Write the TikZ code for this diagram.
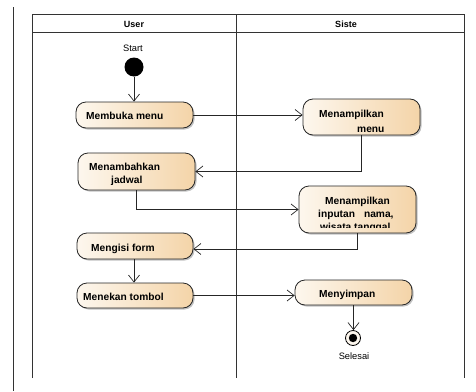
\documentclass[tikz,border=0pt]{standalone}
\usepackage{fontspec}
\setmainfont{Liberation Sans}
\usetikzlibrary{arrows.meta,shadows,calc}
\definecolor{actL}{RGB}{253,247,238}
\definecolor{actR}{RGB}{244,212,168}
\begin{document}
\begin{tikzpicture}[x=1pt,y=-1pt,
  act/.style={draw=black!85, line width=0.8pt, rounded corners=10pt,
    left color=actL, right color=actR,
    drop shadow={shadow xshift=1.5pt, shadow yshift=-1.5pt, fill=black!40, opacity=0.6},
    minimum width=117pt, inner sep=0pt},
  lbl/.style={anchor=base west, inner sep=0pt, font=\fontsize{10.2}{12}\selectfont\bfseries},
  hdr/.style={anchor=base, inner sep=0pt, font=\fontsize{9}{10}\selectfont\bfseries},
  small/.style={anchor=base, inner sep=0pt, font=\fontsize{9.3}{10}\selectfont},
  flow/.style={draw=black!85, line width=0.7pt, -{Straight Barb[length=7pt,width=11pt]}},
  lane/.style={draw=black!80, line width=0.8pt}]
\useasboundingbox (0,0) rectangle (476,391);

% frame and swimlanes
\draw[lane] (13,7) -- (13,391);
\draw[lane] (32,378) -- (32,14) -- (464,14) -- (464,378);
\draw[lane] (32,32) -- (464,32);
\draw[lane] (236,14) -- (236,378);
\node[hdr] (huser) at (134,27) {User};
\node[hdr] (hsys) at (346,27) {Siste};

% start
\node[circle, fill=black, minimum size=19pt, inner sep=0pt] (start) at (134,67) {};
\node[small] (startlbl) at (133,51.5) {Start};

% activities
\node[act, minimum height=26pt] (m1) at (134.5,115) {};
\node[lbl] at (86,119) {Membuka menu};

\node[act, minimum height=37pt] (m2) at (136.5,171.5) {};
\node[lbl] at (89,170) {Menambahkan};
\begin{scope}
  \clip (100,150) rectangle (180,184);
  \node[lbl] at (111,183.5) {jadwal};
\end{scope}

\node[act, minimum height=36pt] (m3) at (361.5,117) {};
\node[lbl] at (319,117) {Menampilkan};
\node[lbl] at (357,132) {menu};

\node[act, minimum height=47pt] (m4) at (357.5,209.5) {};
\node[lbl] at (325,204) {Menampilkan};
\node[lbl] at (318,217) {inputan\hspace{9pt}nama,};
\begin{scope}
  \clip (310,190) rectangle (410,227);
  \node[lbl] at (320,230) {wisata tanggal};
\end{scope}

\node[act, minimum height=26pt, minimum width=116pt] (m5) at (135,246) {};
\node[lbl] at (91,251.5) {Mengisi form};

\node[act, minimum height=25pt, minimum width=116pt] (m6) at (135,295.5) {};
\node[lbl] at (83,300.5) {Menekan tombol};

\node[act, minimum height=25pt] (m7) at (353.5,292.5) {};
\node[lbl] at (319,297.5) {Menyimpan};

% final
\node[circle, draw=black, line width=0.8pt, fill=actL, minimum size=15pt, inner sep=0pt] (end) at (353,338) {};
\fill[black] (end.center) circle (4.2pt);
\node[small] (endlbl) at (354,359.5) {Selesai};

% flows
\draw[flow] (start.south) -- (start.south |- m1.north);
\draw[flow] (m1.east) -- (m1.east -| m3.west);
\draw[flow] ([xshift=-0.5pt]m3.south) |- (m2.east);
\draw[flow] (m2.south) |- (m4.west);
\draw[flow] ([xshift=-0.5pt]m4.south) |- ([yshift=-3pt]m5.east);
\draw[flow] ([xshift=-1pt]m5.south) -- ([xshift=-1pt]m6.north);
\draw[flow] (m6.east) -- (m6.east -| m7.west);
\draw[flow] (m7.south) -- (m7.south |- end.north);
\end{tikzpicture}
\end{document}
